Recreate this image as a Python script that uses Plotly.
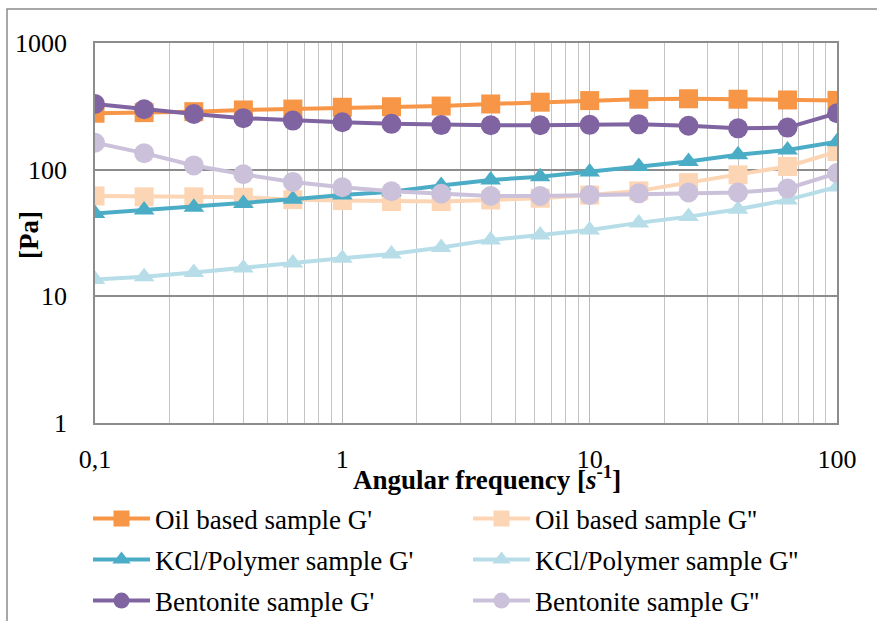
import plotly.graph_objects as go

# Angular frequency sweep [1/s]
freq = [0.1, 0.158, 0.251, 0.398, 0.631, 1, 1.58, 2.51, 3.98, 6.31, 10, 15.8, 25.1, 39.8, 63.1, 100]

# Storage (G') and loss (G'') moduli [Pa]
oil_g1 = [279, 282, 287, 296, 301, 311, 314, 318, 330, 341, 351, 360, 363, 360, 355, 352]
oil_g2 = [62, 61, 61, 60.5, 58, 57, 56, 56, 57.7, 59.5, 63, 68, 79, 91, 106, 139]
kcl_g1 = [45, 48, 50.5, 54, 58.4, 63, 67, 75, 83, 88, 96, 106, 116, 131, 143, 166]
kcl_g2 = [13.6, 14.3, 15.4, 16.7, 18.3, 20, 21.6, 24.3, 27.9, 30.5, 33.4, 38, 42.6, 48.7, 57.7, 73]
ben_g1 = [330, 300, 275, 255, 244, 237, 230, 225, 224, 224, 226, 228, 222, 212, 215, 279]
ben_g2 = [163, 135, 108, 92, 80, 72.6, 67.6, 64.5, 62, 62, 63, 65, 66, 66, 71, 94]

series_names = [
    "Oil based sample G'", "Oil based sample G''",
    "KCl/Polymer sample G'", "KCl/Polymer sample G''",
    "Bentonite sample G'", "Bentonite sample G''",
]
series_values = [oil_g1, oil_g2, kcl_g1, kcl_g2, ben_g1, ben_g2]
series_colors = ["#F79646", "#FCD5B4", "#4BACC6", "#B7DEE8", "#8064A2", "#CCC1DA"]
series_symbols = ["square", "square", "triangle-up", "triangle-up", "circle", "circle"]
symbol_sizes = {"square": 19, "triangle-up": 18, "circle": 20}

x_tickvals = [0.1, 1, 10, 100]
x_ticktext = ["0,1", "1", "10", "100"]
y_tickvals = [1, 10, 100, 1000]
y_ticktext = ["1", "10", "100", "1000"]

FONT = "Liberation Serif"
W, H = 877, 621
L, R, T, B = 95, 40, 43, 198
PW, PH = W - L - R, H - T - B


def px_to_paper_x(px):
    return (px - L) / PW


def px_to_paper_y(py):
    return (H - B - py) / PH


# legend slots: two columns, three rows
legend_cols = [88, 468]
legend_rows = [519, 560, 601]

fig = go.Figure()
for i, (name, vals, col, sym) in enumerate(zip(series_names, series_values, series_colors, series_symbols)):
    lg = "legend" if i == 0 else f"legend{i + 1}"
    fig.add_trace(go.Scatter(
        x=freq, y=vals, name=name, mode="lines+markers",
        line=dict(color=col, width=4),
        marker=dict(symbol=sym, size=symbol_sizes[sym], color=col, line=dict(width=0)),
        legend=lg,
    ))

legend_layouts = {}
for i in range(6):
    key = "legend" if i == 0 else f"legend{i + 1}"
    legend_layouts[key] = dict(
        x=px_to_paper_x(legend_cols[i % 2]), xanchor="left",
        y=px_to_paper_y(legend_rows[i // 2]), yanchor="middle",
        bgcolor="rgba(0,0,0,0)", borderwidth=0,
        itemwidth=57, itemsizing="trace",
        font=dict(family=FONT, size=27, color="#000000"),
    )

minor_x = [k * 10.0 ** e for e in (-1, 0, 1) for k in range(2, 10)]

fig.update_layout(
    template="none",
    width=W, height=H,
    margin=dict(l=L, r=R, t=T, b=B, pad=0, autoexpand=False),
    paper_bgcolor="white", plot_bgcolor="white",
    showlegend=True,
    font=dict(family=FONT, size=26, color="#000000"),
    xaxis=dict(
        type="log", range=[-1, 2], automargin=False,
        tickmode="array", tickvals=x_tickvals, ticktext=x_ticktext,
        ticks="outside", ticklen=12, tickcolor="rgba(0,0,0,0)",
        tickfont=dict(family=FONT, size=26),
        showgrid=True, gridcolor="#b8b8b8", gridwidth=1,
        minor=dict(tickvals=minor_x, showgrid=True, gridcolor="#c4c4c4", gridwidth=1, ticks=""),
        showline=True, linecolor="#8c8c8c", linewidth=1.5, mirror=True,
        zeroline=False,
    ),
    yaxis=dict(
        type="log", range=[0, 3], automargin=False,
        tickmode="array", tickvals=y_tickvals, ticktext=y_ticktext,
        ticks="outside", ticklen=21, tickcolor="rgba(0,0,0,0)",
        tickfont=dict(family=FONT, size=26),
        showgrid=True, gridcolor="#8c8c8c", gridwidth=1.5,
        showline=True, linecolor="#8c8c8c", linewidth=1.5, mirror=True,
        zeroline=False,
    ),
    annotations=[
        dict(text="<b>Angular frequency [<i>s</i><sup>-1</sup>]</b>",
             xref="paper", yref="paper", x=px_to_paper_x(487), y=px_to_paper_y(478),
             xanchor="center", yanchor="middle", showarrow=False,
             font=dict(family=FONT, size=27, color="#000000")),
        dict(text="<b>[Pa]</b>", xref="paper", yref="paper",
             x=px_to_paper_x(29), y=px_to_paper_y(235),
             xanchor="center", yanchor="middle", showarrow=False, textangle=-90,
             font=dict(family=FONT, size=27, color="#000000")),
    ],
    shapes=[
        dict(type="rect", xref="paper", yref="paper",
             x0=px_to_paper_x(7), y0=px_to_paper_y(700),
             x1=px_to_paper_x(1000), y1=px_to_paper_y(9),
             line=dict(color="#8c8c8c", width=1.5), fillcolor="rgba(0,0,0,0)", layer="below"),
    ],
    **legend_layouts,
)

fig.write_html("out.html")
